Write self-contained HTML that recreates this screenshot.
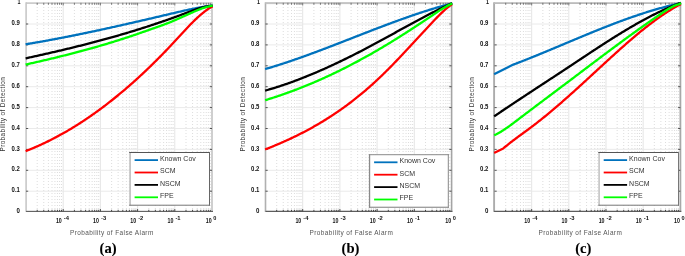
<!DOCTYPE html><html><head><meta charset="utf-8"><style>html,body{margin:0;padding:0;background:#fff;}body{width:685px;height:256px;overflow:hidden;}svg{display:block;}.tk{font-family:"Liberation Sans",Arial,sans-serif;font-weight:bold;fill:#111;}.lb{font-family:"Liberation Sans",Arial,sans-serif;fill:#555;}.lb2{font-family:"Liberation Sans",Arial,sans-serif;fill:#333;}.lg{font-family:"Liberation Sans",Arial,sans-serif;fill:#333;}.cap{font-family:"Liberation Serif","Times New Roman",serif;font-weight:bold;fill:#000;}</style></head><body>
<svg width="685" height="256" viewBox="0 0 685 256">
<g>
<rect x="0" y="0" width="685" height="256" fill="#fff"/>
<path d="M63.20 3.10V211.10M100.40 3.10V211.10M137.60 3.10V211.10M174.80 3.10V211.10" stroke="#e2e2e2" stroke-width="0.9" fill="none"/>
<path d="M37.20 4.10V211.10M43.75 4.10V211.10M48.40 4.10V211.10M52.00 4.10V211.10M54.95 4.10V211.10M57.44 4.10V211.10M59.59 4.10V211.10M61.50 4.10V211.10M74.40 4.10V211.10M80.95 4.10V211.10M85.60 4.10V211.10M89.20 4.10V211.10M92.15 4.10V211.10M94.64 4.10V211.10M96.79 4.10V211.10M98.70 4.10V211.10M111.60 4.10V211.10M118.15 4.10V211.10M122.80 4.10V211.10M126.40 4.10V211.10M129.35 4.10V211.10M131.84 4.10V211.10M133.99 4.10V211.10M135.90 4.10V211.10M148.80 4.10V211.10M155.35 4.10V211.10M160.00 4.10V211.10M163.60 4.10V211.10M166.55 4.10V211.10M169.04 4.10V211.10M171.19 4.10V211.10M173.10 4.10V211.10M186.00 4.10V211.10M192.55 4.10V211.10M197.20 4.10V211.10M200.80 4.10V211.10M203.75 4.10V211.10M206.24 4.10V211.10M208.39 4.10V211.10M210.30 4.10V211.10" stroke="#c0c0c0" stroke-width="0.6" stroke-dasharray="0.9 2.1" fill="none"/>
<path d="M26.00 191.20H212.00M26.00 170.30H212.00M26.00 149.40H212.00M26.00 128.50H212.00M26.00 107.60H212.00M26.00 86.70H212.00M26.00 65.80H212.00M26.00 44.90H212.00M26.00 24.00H212.00" stroke="#e8e8e8" stroke-width="0.9" fill="none"/>
<rect x="25.30" y="2.30" width="1.60" height="209.60" fill="#c8c8c8"/>
<rect x="211.00" y="2.30" width="2.00" height="209.60" fill="#cfcfcf"/>
<rect x="26.10" y="2.35" width="185.90" height="1.50" fill="#c4c4c4"/>
<rect x="26.10" y="210.85" width="186.90" height="1.00" fill="#4a4a4a"/>
<path d="M37.20 211.30v-1.50M43.75 211.30v-1.50M48.40 211.30v-1.50M52.00 211.30v-1.50M54.95 211.30v-1.50M57.44 211.30v-1.50M59.59 211.30v-1.50M61.50 211.30v-1.50M63.20 211.30v-2.20M74.40 211.30v-1.50M80.95 211.30v-1.50M85.60 211.30v-1.50M89.20 211.30v-1.50M92.15 211.30v-1.50M94.64 211.30v-1.50M96.79 211.30v-1.50M98.70 211.30v-1.50M100.40 211.30v-2.20M111.60 211.30v-1.50M118.15 211.30v-1.50M122.80 211.30v-1.50M126.40 211.30v-1.50M129.35 211.30v-1.50M131.84 211.30v-1.50M133.99 211.30v-1.50M135.90 211.30v-1.50M137.60 211.30v-2.20M148.80 211.30v-1.50M155.35 211.30v-1.50M160.00 211.30v-1.50M163.60 211.30v-1.50M166.55 211.30v-1.50M169.04 211.30v-1.50M171.19 211.30v-1.50M173.10 211.30v-1.50M174.80 211.30v-2.20M186.00 211.30v-1.50M192.55 211.30v-1.50M197.20 211.30v-1.50M200.80 211.30v-1.50M203.75 211.30v-1.50M206.24 211.30v-1.50M208.39 211.30v-1.50M210.30 211.30v-1.50" stroke="#333" stroke-width="0.9" fill="none"/>
<path d="M37.20 2.80v1.90M43.75 2.80v1.90M48.40 2.80v1.90M52.00 2.80v1.90M54.95 2.80v1.90M57.44 2.80v1.90M59.59 2.80v1.90M61.50 2.80v1.90M63.20 2.80v2.60M74.40 2.80v1.90M80.95 2.80v1.90M85.60 2.80v1.90M89.20 2.80v1.90M92.15 2.80v1.90M94.64 2.80v1.90M96.79 2.80v1.90M98.70 2.80v1.90M100.40 2.80v2.60M111.60 2.80v1.90M118.15 2.80v1.90M122.80 2.80v1.90M126.40 2.80v1.90M129.35 2.80v1.90M131.84 2.80v1.90M133.99 2.80v1.90M135.90 2.80v1.90M137.60 2.80v2.60M148.80 2.80v1.90M155.35 2.80v1.90M160.00 2.80v1.90M163.60 2.80v1.90M166.55 2.80v1.90M169.04 2.80v1.90M171.19 2.80v1.90M173.10 2.80v1.90M174.80 2.80v2.60M186.00 2.80v1.90M192.55 2.80v1.90M197.20 2.80v1.90M200.80 2.80v1.90M203.75 2.80v1.90M206.24 2.80v1.90M208.39 2.80v1.90M210.30 2.80v1.90" stroke="#6a6a6a" stroke-width="0.9" fill="none"/>
<path d="M26.00 191.20h2.2M212.00 191.20h-2.2M26.00 170.30h2.2M212.00 170.30h-2.2M26.00 149.40h2.2M212.00 149.40h-2.2M26.00 128.50h2.2M212.00 128.50h-2.2M26.00 107.60h2.2M212.00 107.60h-2.2M26.00 86.70h2.2M212.00 86.70h-2.2M26.00 65.80h2.2M212.00 65.80h-2.2M26.00 44.90h2.2M212.00 44.90h-2.2M26.00 24.00h2.2M212.00 24.00h-2.2" stroke="#444" stroke-width="0.9" fill="none"/>
<polyline points="25.61,44.28 26.00,44.22 26.93,44.06 27.86,43.91 28.79,43.76 29.72,43.60 30.65,43.45 31.58,43.29 32.51,43.13 33.44,42.97 34.37,42.81 35.30,42.65 36.23,42.49 37.16,42.33 38.09,42.17 39.02,42.01 39.95,41.84 40.88,41.68 41.81,41.51 42.74,41.35 43.67,41.18 44.60,41.01 45.53,40.85 46.46,40.68 47.39,40.51 48.32,40.34 49.25,40.17 50.18,39.99 51.11,39.82 52.04,39.65 52.97,39.48 53.90,39.30 54.83,39.13 55.76,38.95 56.69,38.78 57.62,38.60 58.55,38.42 59.48,38.24 60.41,38.07 61.34,37.89 62.27,37.71 63.20,37.53 64.13,37.34 65.06,37.16 65.99,36.98 66.92,36.80 67.85,36.61 68.78,36.43 69.71,36.25 70.64,36.06 71.57,35.87 72.50,35.69 73.43,35.50 74.36,35.31 75.29,35.13 76.22,34.94 77.15,34.75 78.08,34.56 79.01,34.37 79.94,34.18 80.87,33.99 81.80,33.79 82.73,33.60 83.66,33.41 84.59,33.22 85.52,33.02 86.45,32.83 87.38,32.63 88.31,32.44 89.24,32.24 90.17,32.05 91.10,31.85 92.03,31.65 92.96,31.45 93.89,31.26 94.82,31.06 95.75,30.86 96.68,30.66 97.61,30.46 98.54,30.26 99.47,30.06 100.40,29.86 101.33,29.66 102.26,29.45 103.19,29.25 104.12,29.05 105.05,28.85 105.98,28.64 106.91,28.44 107.84,28.23 108.77,28.03 109.70,27.82 110.63,27.62 111.56,27.41 112.49,27.21 113.42,27.00 114.35,26.79 115.28,26.59 116.21,26.38 117.14,26.17 118.07,25.96 119.00,25.75 119.93,25.55 120.86,25.34 121.79,25.13 122.72,24.92 123.65,24.71 124.58,24.50 125.51,24.29 126.44,24.08 127.37,23.86 128.30,23.65 129.23,23.44 130.16,23.23 131.09,23.02 132.02,22.80 132.95,22.59 133.88,22.38 134.81,22.16 135.74,21.95 136.67,21.74 137.60,21.52 138.53,21.31 139.46,21.09 140.39,20.88 141.32,20.67 142.25,20.45 143.18,20.24 144.11,20.02 145.04,19.80 145.97,19.59 146.90,19.37 147.83,19.16 148.76,18.94 149.69,18.72 150.62,18.51 151.55,18.29 152.48,18.07 153.41,17.86 154.34,17.64 155.27,17.42 156.20,17.20 157.13,16.99 158.06,16.77 158.99,16.55 159.92,16.33 160.85,16.11 161.78,15.90 162.71,15.68 163.64,15.46 164.57,15.24 165.50,15.02 166.43,14.80 167.36,14.59 168.29,14.37 169.22,14.15 170.15,13.93 171.08,13.71 172.01,13.49 172.94,13.27 173.87,13.05 174.80,12.84 175.73,12.62 176.66,12.40 177.59,12.19 178.52,11.97 179.45,11.75 180.38,11.54 181.31,11.33 182.24,11.12 183.17,10.91 184.10,10.70 185.03,10.49 185.96,10.28 186.89,10.08 187.82,9.88 188.75,9.68 189.68,9.48 190.61,9.28 191.54,9.08 192.47,8.89 193.40,8.70 194.33,8.51 195.26,8.33 196.19,8.15 197.12,7.97 198.05,7.79 198.98,7.61 199.91,7.44 200.84,7.27 201.77,7.11 202.70,6.95 203.63,6.79 204.56,6.63 205.49,6.48 206.42,6.34 207.35,6.19 208.28,6.05 209.21,5.92 210.14,5.78 211.07,5.66 212.00,5.53 212.69,5.44" stroke="#0072bd" stroke-width="2.3" fill="none" stroke-linejoin="round" stroke-linecap="butt"/>
<polyline points="25.63,151.10 26.00,150.96 26.93,150.60 27.86,150.23 28.79,149.87 29.72,149.49 30.65,149.12 31.58,148.73 32.51,148.35 33.44,147.96 34.37,147.57 35.30,147.17 36.23,146.77 37.16,146.36 38.09,145.95 39.02,145.53 39.95,145.11 40.88,144.69 41.81,144.26 42.74,143.83 43.67,143.40 44.60,142.96 45.53,142.51 46.46,142.07 47.39,141.61 48.32,141.16 49.25,140.70 50.18,140.23 51.11,139.76 52.04,139.29 52.97,138.81 53.90,138.33 54.83,137.85 55.76,137.36 56.69,136.86 57.62,136.37 58.55,135.86 59.48,135.36 60.41,134.85 61.34,134.33 62.27,133.82 63.20,133.29 64.13,132.77 65.06,132.24 65.99,131.70 66.92,131.16 67.85,130.62 68.78,130.07 69.71,129.52 70.64,128.97 71.57,128.41 72.50,127.84 73.43,127.28 74.36,126.70 75.29,126.13 76.22,125.55 77.15,124.96 78.08,124.38 79.01,123.78 79.94,123.19 80.87,122.59 81.80,121.98 82.73,121.37 83.66,120.76 84.59,120.14 85.52,119.52 86.45,118.90 87.38,118.27 88.31,117.64 89.24,117.00 90.17,116.36 91.10,115.71 92.03,115.06 92.96,114.41 93.89,113.75 94.82,113.09 95.75,112.43 96.68,111.76 97.61,111.08 98.54,110.41 99.47,109.73 100.40,109.04 101.33,108.35 102.26,107.66 103.19,106.96 104.12,106.26 105.05,105.55 105.98,104.84 106.91,104.13 107.84,103.41 108.77,102.69 109.70,101.96 110.63,101.23 111.56,100.50 112.49,99.76 113.42,99.02 114.35,98.27 115.28,97.52 116.21,96.77 117.14,96.01 118.07,95.25 119.00,94.48 119.93,93.71 120.86,92.94 121.79,92.16 122.72,91.38 123.65,90.59 124.58,89.80 125.51,89.01 126.44,88.21 127.37,87.41 128.30,86.60 129.23,85.79 130.16,84.98 131.09,84.16 132.02,83.34 132.95,82.52 133.88,81.69 134.81,80.85 135.74,80.02 136.67,79.17 137.60,78.33 138.53,77.48 139.46,76.63 140.39,75.77 141.32,74.91 142.25,74.04 143.18,73.17 144.11,72.30 145.04,71.42 145.97,70.54 146.90,69.66 147.83,68.77 148.76,67.87 149.69,66.98 150.62,66.08 151.55,65.17 152.48,64.26 153.41,63.35 154.34,62.44 155.27,61.51 156.20,60.59 157.13,59.66 158.06,58.73 158.99,57.79 159.92,56.85 160.85,55.91 161.78,54.96 162.71,54.01 163.64,53.06 164.57,52.10 165.50,51.13 166.43,50.17 167.36,49.20 168.29,48.22 169.22,47.24 170.15,46.26 171.08,45.27 172.01,44.28 172.94,43.29 173.87,42.29 174.80,41.29 175.73,40.28 176.66,39.27 177.59,38.26 178.52,37.25 179.45,36.24 180.38,35.22 181.31,34.21 182.24,33.20 183.17,32.19 184.10,31.19 185.03,30.19 185.96,29.19 186.89,28.20 187.82,27.22 188.75,26.25 189.68,25.28 190.61,24.32 191.54,23.37 192.47,22.44 193.40,21.51 194.33,20.60 195.26,19.70 196.19,18.81 197.12,17.94 198.05,17.08 198.98,16.24 199.91,15.42 200.84,14.61 201.77,13.83 202.70,13.06 203.63,12.32 204.56,11.59 205.49,10.89 206.42,10.21 207.35,9.55 208.28,8.92 209.21,8.31 210.14,7.73 211.07,7.18 212.00,6.65 212.61,6.31" stroke="#ff0000" stroke-width="2.3" fill="none" stroke-linejoin="round" stroke-linecap="butt"/>
<polyline points="25.61,58.34 26.00,58.26 26.93,58.06 27.86,57.85 28.79,57.65 29.72,57.45 30.65,57.25 31.58,57.04 32.51,56.84 33.44,56.64 34.37,56.43 35.30,56.23 36.23,56.02 37.16,55.82 38.09,55.61 39.02,55.40 39.95,55.20 40.88,54.99 41.81,54.78 42.74,54.57 43.67,54.36 44.60,54.15 45.53,53.94 46.46,53.73 47.39,53.52 48.32,53.31 49.25,53.10 50.18,52.88 51.11,52.67 52.04,52.46 52.97,52.24 53.90,52.03 54.83,51.81 55.76,51.60 56.69,51.38 57.62,51.16 58.55,50.94 59.48,50.73 60.41,50.51 61.34,50.29 62.27,50.07 63.20,49.85 64.13,49.63 65.06,49.40 65.99,49.18 66.92,48.96 67.85,48.73 68.78,48.51 69.71,48.28 70.64,48.06 71.57,47.83 72.50,47.60 73.43,47.38 74.36,47.15 75.29,46.92 76.22,46.69 77.15,46.46 78.08,46.22 79.01,45.99 79.94,45.76 80.87,45.53 81.80,45.29 82.73,45.06 83.66,44.82 84.59,44.58 85.52,44.35 86.45,44.11 87.38,43.87 88.31,43.63 89.24,43.39 90.17,43.15 91.10,42.91 92.03,42.66 92.96,42.42 93.89,42.18 94.82,41.93 95.75,41.68 96.68,41.44 97.61,41.19 98.54,40.94 99.47,40.69 100.40,40.44 101.33,40.19 102.26,39.94 103.19,39.68 104.12,39.43 105.05,39.18 105.98,38.92 106.91,38.66 107.84,38.41 108.77,38.15 109.70,37.89 110.63,37.63 111.56,37.37 112.49,37.11 113.42,36.84 114.35,36.58 115.28,36.32 116.21,36.05 117.14,35.78 118.07,35.52 119.00,35.25 119.93,34.98 120.86,34.71 121.79,34.44 122.72,34.16 123.65,33.89 124.58,33.62 125.51,33.34 126.44,33.07 127.37,32.79 128.30,32.51 129.23,32.23 130.16,31.95 131.09,31.67 132.02,31.39 132.95,31.10 133.88,30.82 134.81,30.53 135.74,30.24 136.67,29.96 137.60,29.67 138.53,29.38 139.46,29.09 140.39,28.79 141.32,28.50 142.25,28.21 143.18,27.91 144.11,27.61 145.04,27.32 145.97,27.02 146.90,26.72 147.83,26.42 148.76,26.11 149.69,25.81 150.62,25.50 151.55,25.20 152.48,24.89 153.41,24.58 154.34,24.27 155.27,23.96 156.20,23.65 157.13,23.34 158.06,23.02 158.99,22.71 159.92,22.39 160.85,22.07 161.78,21.75 162.71,21.43 163.64,21.11 164.57,20.79 165.50,20.47 166.43,20.14 167.36,19.81 168.29,19.49 169.22,19.16 170.15,18.83 171.08,18.49 172.01,18.16 172.94,17.83 173.87,17.49 174.80,17.16 175.73,16.82 176.66,16.48 177.59,16.14 178.52,15.80 179.45,15.46 180.38,15.12 181.31,14.78 182.24,14.43 183.17,14.09 184.10,13.75 185.03,13.40 185.96,13.06 186.89,12.71 187.82,12.37 188.75,12.02 189.68,11.68 190.61,11.33 191.54,10.99 192.47,10.65 193.40,10.31 194.33,9.97 195.26,9.64 196.19,9.32 197.12,9.00 198.05,8.69 198.98,8.39 199.91,8.11 200.84,7.83 201.77,7.57 202.70,7.32 203.63,7.09 204.56,6.88 205.49,6.68 206.42,6.51 207.35,6.35 208.28,6.21 209.21,6.10 210.14,6.01 211.07,5.95 212.00,5.91 212.70,5.88" stroke="#000000" stroke-width="2.3" fill="none" stroke-linejoin="round" stroke-linecap="butt"/>
<polyline points="25.61,64.55 26.00,64.46 26.93,64.26 27.86,64.05 28.79,63.85 29.72,63.64 30.65,63.43 31.58,63.22 32.51,63.01 33.44,62.80 34.37,62.59 35.30,62.38 36.23,62.17 37.16,61.96 38.09,61.75 39.02,61.54 39.95,61.32 40.88,61.11 41.81,60.89 42.74,60.68 43.67,60.46 44.60,60.24 45.53,60.02 46.46,59.81 47.39,59.59 48.32,59.37 49.25,59.15 50.18,58.93 51.11,58.70 52.04,58.48 52.97,58.26 53.90,58.03 54.83,57.81 55.76,57.58 56.69,57.35 57.62,57.13 58.55,56.90 59.48,56.67 60.41,56.44 61.34,56.21 62.27,55.98 63.20,55.75 64.13,55.51 65.06,55.28 65.99,55.04 66.92,54.81 67.85,54.57 68.78,54.34 69.71,54.10 70.64,53.86 71.57,53.62 72.50,53.38 73.43,53.14 74.36,52.89 75.29,52.65 76.22,52.41 77.15,52.16 78.08,51.91 79.01,51.67 79.94,51.42 80.87,51.17 81.80,50.92 82.73,50.67 83.66,50.42 84.59,50.16 85.52,49.91 86.45,49.65 87.38,49.40 88.31,49.14 89.24,48.88 90.17,48.62 91.10,48.36 92.03,48.10 92.96,47.84 93.89,47.58 94.82,47.31 95.75,47.05 96.68,46.78 97.61,46.52 98.54,46.25 99.47,45.98 100.40,45.71 101.33,45.43 102.26,45.16 103.19,44.89 104.12,44.61 105.05,44.34 105.98,44.06 106.91,43.78 107.84,43.50 108.77,43.22 109.70,42.94 110.63,42.65 111.56,42.37 112.49,42.08 113.42,41.80 114.35,41.51 115.28,41.22 116.21,40.93 117.14,40.64 118.07,40.35 119.00,40.05 119.93,39.76 120.86,39.46 121.79,39.16 122.72,38.86 123.65,38.56 124.58,38.26 125.51,37.96 126.44,37.65 127.37,37.35 128.30,37.04 129.23,36.73 130.16,36.42 131.09,36.11 132.02,35.80 132.95,35.49 133.88,35.17 134.81,34.86 135.74,34.54 136.67,34.22 137.60,33.90 138.53,33.58 139.46,33.26 140.39,32.93 141.32,32.61 142.25,32.28 143.18,31.96 144.11,31.63 145.04,31.30 145.97,30.98 146.90,30.65 147.83,30.32 148.76,30.00 149.69,29.67 150.62,29.35 151.55,29.02 152.48,28.70 153.41,28.37 154.34,28.05 155.27,27.72 156.20,27.40 157.13,27.07 158.06,26.74 158.99,26.41 159.92,26.08 160.85,25.74 161.78,25.41 162.71,25.07 163.64,24.72 164.57,24.38 165.50,24.03 166.43,23.67 167.36,23.31 168.29,22.95 169.22,22.58 170.15,22.20 171.08,21.83 172.01,21.44 172.94,21.05 173.87,20.66 174.80,20.26 175.73,19.86 176.66,19.45 177.59,19.04 178.52,18.63 179.45,18.22 180.38,17.80 181.31,17.39 182.24,16.97 183.17,16.55 184.10,16.12 185.03,15.70 185.96,15.28 186.89,14.86 187.82,14.43 188.75,14.01 189.68,13.59 190.61,13.17 191.54,12.75 192.47,12.34 193.40,11.93 194.33,11.52 195.26,11.12 196.19,10.72 197.12,10.33 198.05,9.95 198.98,9.57 199.91,9.21 200.84,8.86 201.77,8.51 202.70,8.19 203.63,7.87 204.56,7.57 205.49,7.28 206.42,7.01 207.35,6.76 208.28,6.53 209.21,6.31 210.14,6.12 211.07,5.95 212.00,5.80 212.69,5.68" stroke="#00ff00" stroke-width="2.3" fill="none" stroke-linejoin="round" stroke-linecap="butt"/>
<text class="tk" x="19.90" y="213.20" font-size="7.1" text-anchor="end" textLength="3.40" lengthAdjust="spacingAndGlyphs">0</text>
<text class="tk" x="19.90" y="192.30" font-size="7.1" text-anchor="end" textLength="8.30" lengthAdjust="spacingAndGlyphs">0.1</text>
<text class="tk" x="19.90" y="171.40" font-size="7.1" text-anchor="end" textLength="8.30" lengthAdjust="spacingAndGlyphs">0.2</text>
<text class="tk" x="19.90" y="150.50" font-size="7.1" text-anchor="end" textLength="8.30" lengthAdjust="spacingAndGlyphs">0.3</text>
<text class="tk" x="19.90" y="129.60" font-size="7.1" text-anchor="end" textLength="8.30" lengthAdjust="spacingAndGlyphs">0.4</text>
<text class="tk" x="19.90" y="108.70" font-size="7.1" text-anchor="end" textLength="8.30" lengthAdjust="spacingAndGlyphs">0.5</text>
<text class="tk" x="19.90" y="87.80" font-size="7.1" text-anchor="end" textLength="8.30" lengthAdjust="spacingAndGlyphs">0.6</text>
<text class="tk" x="19.90" y="66.90" font-size="7.1" text-anchor="end" textLength="8.30" lengthAdjust="spacingAndGlyphs">0.7</text>
<text class="tk" x="19.90" y="46.00" font-size="7.1" text-anchor="end" textLength="8.30" lengthAdjust="spacingAndGlyphs">0.8</text>
<text class="tk" x="19.90" y="25.10" font-size="7.1" text-anchor="end" textLength="8.30" lengthAdjust="spacingAndGlyphs">0.9</text>
<text class="tk" x="20.60" y="4.20" font-size="7.1" text-anchor="end" textLength="3.00" lengthAdjust="spacingAndGlyphs">1</text>
<text class="tk" x="61.80" y="222.6" font-size="6.6" text-anchor="end" textLength="5.9" lengthAdjust="spacingAndGlyphs">10</text>
<text class="tk" x="63.80" y="219.6" font-size="5.8">-4</text>
<text class="tk" x="99.00" y="222.6" font-size="6.6" text-anchor="end" textLength="5.9" lengthAdjust="spacingAndGlyphs">10</text>
<text class="tk" x="101.00" y="219.6" font-size="5.8">-3</text>
<text class="tk" x="136.20" y="222.6" font-size="6.6" text-anchor="end" textLength="5.9" lengthAdjust="spacingAndGlyphs">10</text>
<text class="tk" x="138.20" y="219.6" font-size="5.8">-2</text>
<text class="tk" x="173.40" y="222.6" font-size="6.6" text-anchor="end" textLength="5.9" lengthAdjust="spacingAndGlyphs">10</text>
<text class="tk" x="175.40" y="219.6" font-size="5.8">-1</text>
<text class="tk" x="211.60" y="222.6" font-size="6.6" text-anchor="end" textLength="5.9" lengthAdjust="spacingAndGlyphs">10</text>
<text class="tk" x="213.30" y="219.6" font-size="5.6">0</text>
<text class="lb" x="70.10" y="235.20" font-size="8.0" letter-spacing="0.5" textLength="83.6" lengthAdjust="spacingAndGlyphs">Probability of False Alarm</text>
<text class="lb2" transform="translate(5.20,151.50) rotate(-90)" font-size="7.6" letter-spacing="0.4" textLength="74.7" lengthAdjust="spacingAndGlyphs">Probability of Detection</text>
<text class="cap" x="108.10" y="252.90" font-size="14.6" text-anchor="middle" stroke="#000" stroke-width="0.1">(a)</text>
<rect x="130.00" y="152.50" width="79.40" height="52.60" fill="#fff"/>
<rect x="129.20" y="152.00" width="1.80" height="53.70" fill="#c4c4c4"/>
<rect x="129.20" y="152.00" width="80.80" height="1.00" fill="#555555"/>
<rect x="209.00" y="152.00" width="1.00" height="53.70" fill="#666666"/>
<rect x="129.20" y="204.70" width="80.80" height="1.00" fill="#777777"/>
<path d="M134.60 160.10h23.4" stroke="#0072bd" stroke-width="1.8"/>
<text class="lg" x="160.00" y="160.90" font-size="7">Known Cov</text>
<path d="M134.60 172.50h23.4" stroke="#ff0000" stroke-width="1.8"/>
<text class="lg" x="160.00" y="173.30" font-size="7">SCM</text>
<path d="M134.60 184.90h23.4" stroke="#000000" stroke-width="1.8"/>
<text class="lg" x="160.00" y="185.70" font-size="7">NSCM</text>
<path d="M134.60 197.30h23.4" stroke="#00ff00" stroke-width="1.8"/>
<text class="lg" x="160.00" y="198.10" font-size="7">FPE</text>
<path d="M302.70 3.10V211.10M339.90 3.10V211.10M377.10 3.10V211.10M414.30 3.10V211.10" stroke="#e2e2e2" stroke-width="0.9" fill="none"/>
<path d="M276.70 4.10V211.10M283.25 4.10V211.10M287.90 4.10V211.10M291.50 4.10V211.10M294.45 4.10V211.10M296.94 4.10V211.10M299.09 4.10V211.10M301.00 4.10V211.10M313.90 4.10V211.10M320.45 4.10V211.10M325.10 4.10V211.10M328.70 4.10V211.10M331.65 4.10V211.10M334.14 4.10V211.10M336.29 4.10V211.10M338.20 4.10V211.10M351.10 4.10V211.10M357.65 4.10V211.10M362.30 4.10V211.10M365.90 4.10V211.10M368.85 4.10V211.10M371.34 4.10V211.10M373.49 4.10V211.10M375.40 4.10V211.10M388.30 4.10V211.10M394.85 4.10V211.10M399.50 4.10V211.10M403.10 4.10V211.10M406.05 4.10V211.10M408.54 4.10V211.10M410.69 4.10V211.10M412.60 4.10V211.10M425.50 4.10V211.10M432.05 4.10V211.10M436.70 4.10V211.10M440.30 4.10V211.10M443.25 4.10V211.10M445.74 4.10V211.10M447.89 4.10V211.10M449.80 4.10V211.10" stroke="#c0c0c0" stroke-width="0.6" stroke-dasharray="0.9 2.1" fill="none"/>
<path d="M265.50 191.20H451.50M265.50 170.30H451.50M265.50 149.40H451.50M265.50 128.50H451.50M265.50 107.60H451.50M265.50 86.70H451.50M265.50 65.80H451.50M265.50 44.90H451.50M265.50 24.00H451.50" stroke="#e8e8e8" stroke-width="0.9" fill="none"/>
<rect x="264.70" y="2.30" width="1.60" height="209.60" fill="#b0b0b0"/>
<rect x="450.80" y="2.30" width="1.60" height="209.60" fill="#a4a4a4"/>
<rect x="265.50" y="2.10" width="186.10" height="2.00" fill="#c4c4c4"/>
<rect x="265.50" y="210.75" width="186.90" height="1.20" fill="#555555"/>
<path d="M276.70 211.30v-1.50M283.25 211.30v-1.50M287.90 211.30v-1.50M291.50 211.30v-1.50M294.45 211.30v-1.50M296.94 211.30v-1.50M299.09 211.30v-1.50M301.00 211.30v-1.50M302.70 211.30v-2.20M313.90 211.30v-1.50M320.45 211.30v-1.50M325.10 211.30v-1.50M328.70 211.30v-1.50M331.65 211.30v-1.50M334.14 211.30v-1.50M336.29 211.30v-1.50M338.20 211.30v-1.50M339.90 211.30v-2.20M351.10 211.30v-1.50M357.65 211.30v-1.50M362.30 211.30v-1.50M365.90 211.30v-1.50M368.85 211.30v-1.50M371.34 211.30v-1.50M373.49 211.30v-1.50M375.40 211.30v-1.50M377.10 211.30v-2.20M388.30 211.30v-1.50M394.85 211.30v-1.50M399.50 211.30v-1.50M403.10 211.30v-1.50M406.05 211.30v-1.50M408.54 211.30v-1.50M410.69 211.30v-1.50M412.60 211.30v-1.50M414.30 211.30v-2.20M425.50 211.30v-1.50M432.05 211.30v-1.50M436.70 211.30v-1.50M440.30 211.30v-1.50M443.25 211.30v-1.50M445.74 211.30v-1.50M447.89 211.30v-1.50M449.80 211.30v-1.50" stroke="#333" stroke-width="0.9" fill="none"/>
<path d="M276.70 2.80v1.90M283.25 2.80v1.90M287.90 2.80v1.90M291.50 2.80v1.90M294.45 2.80v1.90M296.94 2.80v1.90M299.09 2.80v1.90M301.00 2.80v1.90M302.70 2.80v2.60M313.90 2.80v1.90M320.45 2.80v1.90M325.10 2.80v1.90M328.70 2.80v1.90M331.65 2.80v1.90M334.14 2.80v1.90M336.29 2.80v1.90M338.20 2.80v1.90M339.90 2.80v2.60M351.10 2.80v1.90M357.65 2.80v1.90M362.30 2.80v1.90M365.90 2.80v1.90M368.85 2.80v1.90M371.34 2.80v1.90M373.49 2.80v1.90M375.40 2.80v1.90M377.10 2.80v2.60M388.30 2.80v1.90M394.85 2.80v1.90M399.50 2.80v1.90M403.10 2.80v1.90M406.05 2.80v1.90M408.54 2.80v1.90M410.69 2.80v1.90M412.60 2.80v1.90M414.30 2.80v2.60M425.50 2.80v1.90M432.05 2.80v1.90M436.70 2.80v1.90M440.30 2.80v1.90M443.25 2.80v1.90M445.74 2.80v1.90M447.89 2.80v1.90M449.80 2.80v1.90" stroke="#6a6a6a" stroke-width="0.9" fill="none"/>
<path d="M265.50 191.20h2.2M451.50 191.20h-2.2M265.50 170.30h2.2M451.50 170.30h-2.2M265.50 149.40h2.2M451.50 149.40h-2.2M265.50 128.50h2.2M451.50 128.50h-2.2M265.50 107.60h2.2M451.50 107.60h-2.2M265.50 86.70h2.2M451.50 86.70h-2.2M265.50 65.80h2.2M451.50 65.80h-2.2M265.50 44.90h2.2M451.50 44.90h-2.2M265.50 24.00h2.2M451.50 24.00h-2.2" stroke="#444" stroke-width="0.9" fill="none"/>
<polyline points="265.12,69.10 265.50,68.98 266.43,68.71 267.36,68.44 268.29,68.17 269.22,67.89 270.15,67.61 271.08,67.33 272.01,67.05 272.94,66.76 273.87,66.48 274.80,66.19 275.73,65.90 276.66,65.61 277.59,65.32 278.52,65.02 279.45,64.73 280.38,64.43 281.31,64.13 282.24,63.83 283.17,63.52 284.10,63.22 285.03,62.91 285.96,62.61 286.89,62.30 287.82,61.99 288.75,61.67 289.68,61.36 290.61,61.04 291.54,60.73 292.47,60.41 293.40,60.09 294.33,59.77 295.26,59.45 296.19,59.12 297.12,58.80 298.05,58.47 298.98,58.15 299.91,57.82 300.84,57.49 301.77,57.16 302.70,56.83 303.63,56.49 304.56,56.16 305.49,55.82 306.42,55.49 307.35,55.15 308.28,54.81 309.21,54.47 310.14,54.13 311.07,53.79 312.00,53.45 312.93,53.10 313.86,52.76 314.79,52.41 315.72,52.07 316.65,51.72 317.58,51.37 318.51,51.02 319.44,50.67 320.37,50.32 321.30,49.97 322.23,49.62 323.16,49.27 324.09,48.92 325.02,48.56 325.95,48.21 326.88,47.85 327.81,47.50 328.74,47.14 329.67,46.79 330.60,46.43 331.53,46.07 332.46,45.71 333.39,45.35 334.32,45.00 335.25,44.64 336.18,44.28 337.11,43.92 338.04,43.56 338.97,43.19 339.90,42.83 340.83,42.47 341.76,42.11 342.69,41.75 343.62,41.39 344.55,41.02 345.48,40.66 346.41,40.30 347.34,39.93 348.27,39.57 349.20,39.21 350.13,38.85 351.06,38.48 351.99,38.12 352.92,37.76 353.85,37.39 354.78,37.03 355.71,36.67 356.64,36.30 357.57,35.94 358.50,35.58 359.43,35.21 360.36,34.85 361.29,34.49 362.22,34.13 363.15,33.76 364.08,33.40 365.01,33.04 365.94,32.68 366.87,32.32 367.80,31.96 368.73,31.60 369.66,31.24 370.59,30.88 371.52,30.52 372.45,30.16 373.38,29.80 374.31,29.44 375.24,29.09 376.17,28.73 377.10,28.37 378.03,28.02 378.96,27.66 379.89,27.31 380.82,26.95 381.75,26.60 382.68,26.25 383.61,25.90 384.54,25.55 385.47,25.20 386.40,24.85 387.33,24.50 388.26,24.15 389.19,23.80 390.12,23.46 391.05,23.11 391.98,22.77 392.91,22.42 393.84,22.08 394.77,21.74 395.70,21.40 396.63,21.06 397.56,20.72 398.49,20.38 399.42,20.04 400.35,19.71 401.28,19.37 402.21,19.04 403.14,18.71 404.07,18.38 405.00,18.05 405.93,17.72 406.86,17.39 407.79,17.06 408.72,16.74 409.65,16.41 410.58,16.09 411.51,15.77 412.44,15.45 413.37,15.13 414.30,14.82 415.23,14.50 416.16,14.19 417.09,13.87 418.02,13.56 418.95,13.25 419.88,12.95 420.81,12.64 421.74,12.33 422.67,12.03 423.60,11.73 424.53,11.43 425.46,11.13 426.39,10.83 427.32,10.54 428.25,10.25 429.18,9.95 430.11,9.66 431.04,9.38 431.97,9.09 432.90,8.81 433.83,8.52 434.76,8.24 435.69,7.96 436.62,7.69 437.55,7.41 438.48,7.14 439.41,6.87 440.34,6.60 441.27,6.34 442.20,6.07 443.13,5.81 444.06,5.55 444.99,5.29 445.92,5.04 446.85,4.78 447.78,4.53 448.71,4.28 449.64,4.03 450.57,3.79 451.50,3.55 452.18,3.37" stroke="#0072bd" stroke-width="2.3" fill="none" stroke-linejoin="round" stroke-linecap="butt"/>
<polyline points="265.13,149.45 265.50,149.30 266.43,148.94 267.36,148.57 268.29,148.21 269.22,147.84 270.15,147.46 271.08,147.09 272.01,146.71 272.94,146.33 273.87,145.95 274.80,145.56 275.73,145.18 276.66,144.79 277.59,144.39 278.52,144.00 279.45,143.60 280.38,143.20 281.31,142.79 282.24,142.39 283.17,141.98 284.10,141.56 285.03,141.15 285.96,140.73 286.89,140.31 287.82,139.88 288.75,139.45 289.68,139.02 290.61,138.59 291.54,138.15 292.47,137.71 293.40,137.27 294.33,136.82 295.26,136.37 296.19,135.91 297.12,135.46 298.05,135.00 298.98,134.53 299.91,134.06 300.84,133.59 301.77,133.12 302.70,132.64 303.63,132.16 304.56,131.67 305.49,131.18 306.42,130.69 307.35,130.19 308.28,129.69 309.21,129.19 310.14,128.68 311.07,128.17 312.00,127.65 312.93,127.13 313.86,126.61 314.79,126.08 315.72,125.55 316.65,125.02 317.58,124.48 318.51,123.93 319.44,123.38 320.37,122.83 321.30,122.28 322.23,121.72 323.16,121.15 324.09,120.58 325.02,120.01 325.95,119.43 326.88,118.85 327.81,118.26 328.74,117.67 329.67,117.08 330.60,116.48 331.53,115.87 332.46,115.26 333.39,114.65 334.32,114.03 335.25,113.41 336.18,112.78 337.11,112.15 338.04,111.51 338.97,110.87 339.90,110.22 340.83,109.57 341.76,108.91 342.69,108.25 343.62,107.58 344.55,106.91 345.48,106.24 346.41,105.55 347.34,104.87 348.27,104.18 349.20,103.48 350.13,102.78 351.06,102.07 351.99,101.36 352.92,100.64 353.85,99.92 354.78,99.19 355.71,98.45 356.64,97.72 357.57,96.97 358.50,96.22 359.43,95.47 360.36,94.70 361.29,93.94 362.22,93.17 363.15,92.39 364.08,91.60 365.01,90.82 365.94,90.02 366.87,89.22 367.80,88.41 368.73,87.60 369.66,86.78 370.59,85.96 371.52,85.13 372.45,84.29 373.38,83.45 374.31,82.60 375.24,81.75 376.17,80.89 377.10,80.03 378.03,79.15 378.96,78.28 379.89,77.39 380.82,76.50 381.75,75.61 382.68,74.71 383.61,73.80 384.54,72.89 385.47,71.97 386.40,71.05 387.33,70.13 388.26,69.20 389.19,68.26 390.12,67.32 391.05,66.38 391.98,65.43 392.91,64.48 393.84,63.53 394.77,62.57 395.70,61.61 396.63,60.64 397.56,59.67 398.49,58.70 399.42,57.72 400.35,56.74 401.28,55.76 402.21,54.78 403.14,53.79 404.07,52.81 405.00,51.82 405.93,50.82 406.86,49.83 407.79,48.83 408.72,47.83 409.65,46.84 410.58,45.83 411.51,44.83 412.44,43.83 413.37,42.83 414.30,41.82 415.23,40.82 416.16,39.81 417.09,38.80 418.02,37.80 418.95,36.79 419.88,35.78 420.81,34.77 421.74,33.77 422.67,32.76 423.60,31.76 424.53,30.75 425.46,29.75 426.39,28.74 427.32,27.74 428.25,26.74 429.18,25.74 430.11,24.74 431.04,23.74 431.97,22.75 432.90,21.76 433.83,20.77 434.76,19.79 435.69,18.82 436.62,17.85 437.55,16.90 438.48,15.95 439.41,15.02 440.34,14.10 441.27,13.19 442.20,12.30 443.13,11.43 444.06,10.57 444.99,9.74 445.92,8.92 446.85,8.13 447.78,7.36 448.71,6.62 449.64,5.90 450.57,5.21 451.50,4.54 452.07,4.14" stroke="#ff0000" stroke-width="2.3" fill="none" stroke-linejoin="round" stroke-linecap="butt"/>
<polyline points="265.12,90.65 265.50,90.54 266.43,90.27 267.36,90.01 268.29,89.74 269.22,89.47 270.15,89.19 271.08,88.92 272.01,88.64 272.94,88.35 273.87,88.07 274.80,87.78 275.73,87.49 276.66,87.20 277.59,86.90 278.52,86.60 279.45,86.30 280.38,85.99 281.31,85.69 282.24,85.38 283.17,85.06 284.10,84.75 285.03,84.43 285.96,84.11 286.89,83.79 287.82,83.46 288.75,83.13 289.68,82.80 290.61,82.47 291.54,82.14 292.47,81.80 293.40,81.46 294.33,81.11 295.26,80.77 296.19,80.42 297.12,80.07 298.05,79.72 298.98,79.36 299.91,79.01 300.84,78.65 301.77,78.28 302.70,77.92 303.63,77.55 304.56,77.18 305.49,76.81 306.42,76.44 307.35,76.06 308.28,75.69 309.21,75.30 310.14,74.92 311.07,74.54 312.00,74.15 312.93,73.76 313.86,73.37 314.79,72.98 315.72,72.58 316.65,72.19 317.58,71.79 318.51,71.38 319.44,70.98 320.37,70.57 321.30,70.17 322.23,69.76 323.16,69.35 324.09,68.93 325.02,68.52 325.95,68.10 326.88,67.68 327.81,67.26 328.74,66.83 329.67,66.41 330.60,65.98 331.53,65.55 332.46,65.12 333.39,64.69 334.32,64.26 335.25,63.82 336.18,63.38 337.11,62.94 338.04,62.50 338.97,62.06 339.90,61.61 340.83,61.16 341.76,60.72 342.69,60.27 343.62,59.81 344.55,59.36 345.48,58.91 346.41,58.45 347.34,57.99 348.27,57.53 349.20,57.07 350.13,56.61 351.06,56.14 351.99,55.68 352.92,55.21 353.85,54.74 354.78,54.27 355.71,53.80 356.64,53.32 357.57,52.85 358.50,52.37 359.43,51.89 360.36,51.42 361.29,50.93 362.22,50.45 363.15,49.97 364.08,49.48 365.01,49.00 365.94,48.51 366.87,48.02 367.80,47.53 368.73,47.04 369.66,46.55 370.59,46.06 371.52,45.56 372.45,45.07 373.38,44.57 374.31,44.07 375.24,43.57 376.17,43.07 377.10,42.57 378.03,42.06 378.96,41.56 379.89,41.06 380.82,40.55 381.75,40.04 382.68,39.54 383.61,39.03 384.54,38.52 385.47,38.01 386.40,37.50 387.33,36.99 388.26,36.48 389.19,35.96 390.12,35.45 391.05,34.94 391.98,34.42 392.91,33.91 393.84,33.40 394.77,32.88 395.70,32.37 396.63,31.86 397.56,31.34 398.49,30.83 399.42,30.32 400.35,29.80 401.28,29.29 402.21,28.78 403.14,28.26 404.07,27.75 405.00,27.24 405.93,26.73 406.86,26.22 407.79,25.71 408.72,25.20 409.65,24.69 410.58,24.18 411.51,23.68 412.44,23.17 413.37,22.67 414.30,22.16 415.23,21.66 416.16,21.16 417.09,20.66 418.02,20.16 418.95,19.66 419.88,19.16 420.81,18.67 421.74,18.17 422.67,17.68 423.60,17.19 424.53,16.70 425.46,16.21 426.39,15.73 427.32,15.24 428.25,14.76 429.18,14.28 430.11,13.80 431.04,13.32 431.97,12.85 432.90,12.38 433.83,11.91 434.76,11.44 435.69,10.97 436.62,10.51 437.55,10.05 438.48,9.59 439.41,9.13 440.34,8.68 441.27,8.23 442.20,7.78 443.13,7.33 444.06,6.89 444.99,6.45 445.92,6.01 446.85,5.58 447.78,5.14 448.71,4.72 449.64,4.29 450.57,3.87 451.50,3.45 452.14,3.16" stroke="#000000" stroke-width="2.3" fill="none" stroke-linejoin="round" stroke-linecap="butt"/>
<polyline points="265.12,100.22 265.50,100.10 266.43,99.82 267.36,99.53 268.29,99.25 269.22,98.96 270.15,98.67 271.08,98.37 272.01,98.08 272.94,97.78 273.87,97.48 274.80,97.18 275.73,96.87 276.66,96.57 277.59,96.26 278.52,95.94 279.45,95.63 280.38,95.31 281.31,95.00 282.24,94.68 283.17,94.35 284.10,94.03 285.03,93.70 285.96,93.37 286.89,93.04 287.82,92.70 288.75,92.37 289.68,92.03 290.61,91.69 291.54,91.34 292.47,91.00 293.40,90.65 294.33,90.30 295.26,89.95 296.19,89.59 297.12,89.24 298.05,88.88 298.98,88.52 299.91,88.15 300.84,87.79 301.77,87.42 302.70,87.05 303.63,86.68 304.56,86.30 305.49,85.93 306.42,85.55 307.35,85.17 308.28,84.78 309.21,84.40 310.14,84.01 311.07,83.62 312.00,83.23 312.93,82.83 313.86,82.44 314.79,82.04 315.72,81.64 316.65,81.23 317.58,80.83 318.51,80.42 319.44,80.01 320.37,79.60 321.30,79.19 322.23,78.77 323.16,78.35 324.09,77.93 325.02,77.51 325.95,77.08 326.88,76.66 327.81,76.23 328.74,75.80 329.67,75.36 330.60,74.93 331.53,74.49 332.46,74.05 333.39,73.61 334.32,73.16 335.25,72.72 336.18,72.27 337.11,71.82 338.04,71.37 338.97,70.91 339.90,70.45 340.83,69.99 341.76,69.53 342.69,69.07 343.62,68.60 344.55,68.14 345.48,67.67 346.41,67.20 347.34,66.72 348.27,66.25 349.20,65.77 350.13,65.29 351.06,64.80 351.99,64.32 352.92,63.83 353.85,63.34 354.78,62.85 355.71,62.36 356.64,61.87 357.57,61.37 358.50,60.87 359.43,60.37 360.36,59.86 361.29,59.36 362.22,58.85 363.15,58.34 364.08,57.83 365.01,57.32 365.94,56.80 366.87,56.28 367.80,55.76 368.73,55.24 369.66,54.72 370.59,54.19 371.52,53.66 372.45,53.13 373.38,52.60 374.31,52.07 375.24,51.53 376.17,50.99 377.10,50.45 378.03,49.91 378.96,49.36 379.89,48.82 380.82,48.27 381.75,47.72 382.68,47.17 383.61,46.61 384.54,46.06 385.47,45.50 386.40,44.94 387.33,44.38 388.26,43.81 389.19,43.25 390.12,42.68 391.05,42.11 391.98,41.54 392.91,40.97 393.84,40.39 394.77,39.82 395.70,39.24 396.63,38.66 397.56,38.08 398.49,37.50 399.42,36.91 400.35,36.33 401.28,35.74 402.21,35.15 403.14,34.56 404.07,33.97 405.00,33.37 405.93,32.78 406.86,32.18 407.79,31.58 408.72,30.99 409.65,30.39 410.58,29.78 411.51,29.18 412.44,28.58 413.37,27.97 414.30,27.36 415.23,26.75 416.16,26.14 417.09,25.53 418.02,24.92 418.95,24.31 419.88,23.69 420.81,23.08 421.74,22.46 422.67,21.84 423.60,21.22 424.53,20.60 425.46,19.98 426.39,19.36 427.32,18.74 428.25,18.11 429.18,17.49 430.11,16.86 431.04,16.23 431.97,15.61 432.90,14.98 433.83,14.35 434.76,13.72 435.69,13.09 436.62,12.46 437.55,11.84 438.48,11.23 439.41,10.62 440.34,10.02 441.27,9.42 442.20,8.84 443.13,8.27 444.06,7.71 444.99,7.16 445.92,6.63 446.85,6.12 447.78,5.62 448.71,5.13 449.64,4.65 450.57,4.18 451.50,3.71 452.13,3.40" stroke="#00ff00" stroke-width="2.3" fill="none" stroke-linejoin="round" stroke-linecap="butt"/>
<text class="tk" x="259.40" y="213.20" font-size="7.1" text-anchor="end" textLength="3.40" lengthAdjust="spacingAndGlyphs">0</text>
<text class="tk" x="259.40" y="192.30" font-size="7.1" text-anchor="end" textLength="8.30" lengthAdjust="spacingAndGlyphs">0.1</text>
<text class="tk" x="259.40" y="171.40" font-size="7.1" text-anchor="end" textLength="8.30" lengthAdjust="spacingAndGlyphs">0.2</text>
<text class="tk" x="259.40" y="150.50" font-size="7.1" text-anchor="end" textLength="8.30" lengthAdjust="spacingAndGlyphs">0.3</text>
<text class="tk" x="259.40" y="129.60" font-size="7.1" text-anchor="end" textLength="8.30" lengthAdjust="spacingAndGlyphs">0.4</text>
<text class="tk" x="259.40" y="108.70" font-size="7.1" text-anchor="end" textLength="8.30" lengthAdjust="spacingAndGlyphs">0.5</text>
<text class="tk" x="259.40" y="87.80" font-size="7.1" text-anchor="end" textLength="8.30" lengthAdjust="spacingAndGlyphs">0.6</text>
<text class="tk" x="259.40" y="66.90" font-size="7.1" text-anchor="end" textLength="8.30" lengthAdjust="spacingAndGlyphs">0.7</text>
<text class="tk" x="259.40" y="46.00" font-size="7.1" text-anchor="end" textLength="8.30" lengthAdjust="spacingAndGlyphs">0.8</text>
<text class="tk" x="259.40" y="25.10" font-size="7.1" text-anchor="end" textLength="8.30" lengthAdjust="spacingAndGlyphs">0.9</text>
<text class="tk" x="260.10" y="4.20" font-size="7.1" text-anchor="end" textLength="3.00" lengthAdjust="spacingAndGlyphs">1</text>
<text class="tk" x="301.30" y="222.6" font-size="6.6" text-anchor="end" textLength="5.9" lengthAdjust="spacingAndGlyphs">10</text>
<text class="tk" x="303.30" y="219.6" font-size="5.8">-4</text>
<text class="tk" x="338.50" y="222.6" font-size="6.6" text-anchor="end" textLength="5.9" lengthAdjust="spacingAndGlyphs">10</text>
<text class="tk" x="340.50" y="219.6" font-size="5.8">-3</text>
<text class="tk" x="375.70" y="222.6" font-size="6.6" text-anchor="end" textLength="5.9" lengthAdjust="spacingAndGlyphs">10</text>
<text class="tk" x="377.70" y="219.6" font-size="5.8">-2</text>
<text class="tk" x="412.90" y="222.6" font-size="6.6" text-anchor="end" textLength="5.9" lengthAdjust="spacingAndGlyphs">10</text>
<text class="tk" x="414.90" y="219.6" font-size="5.8">-1</text>
<text class="tk" x="451.10" y="222.6" font-size="6.6" text-anchor="end" textLength="5.9" lengthAdjust="spacingAndGlyphs">10</text>
<text class="tk" x="452.80" y="219.6" font-size="5.6">0</text>
<text class="lb" x="309.60" y="235.20" font-size="8.0" letter-spacing="0.5" textLength="83.6" lengthAdjust="spacingAndGlyphs">Probability of False Alarm</text>
<text class="lb2" transform="translate(244.70,151.50) rotate(-90)" font-size="7.6" letter-spacing="0.4" textLength="74.7" lengthAdjust="spacingAndGlyphs">Probability of Detection</text>
<text class="cap" x="350.45" y="252.90" font-size="14.6" text-anchor="middle" stroke="#000" stroke-width="0.1">(b)</text>
<rect x="369.50" y="154.70" width="79.00" height="52.60" fill="#fff"/>
<rect x="368.90" y="154.20" width="1.30" height="53.60" fill="#8a8a8a"/>
<rect x="368.90" y="154.20" width="79.90" height="1.00" fill="#8a8a8a"/>
<rect x="447.80" y="154.20" width="1.00" height="53.60" fill="#888888"/>
<rect x="368.90" y="206.70" width="79.90" height="1.10" fill="#888888"/>
<path d="M374.10 162.30h23.4" stroke="#0072bd" stroke-width="1.8"/>
<text class="lg" x="399.50" y="163.10" font-size="7">Known Cov</text>
<path d="M374.10 174.70h23.4" stroke="#ff0000" stroke-width="1.8"/>
<text class="lg" x="399.50" y="175.50" font-size="7">SCM</text>
<path d="M374.10 187.10h23.4" stroke="#000000" stroke-width="1.8"/>
<text class="lg" x="399.50" y="187.90" font-size="7">NSCM</text>
<path d="M374.10 199.50h23.4" stroke="#00ff00" stroke-width="1.8"/>
<text class="lg" x="399.50" y="200.30" font-size="7">FPE</text>
<path d="M531.66 3.10V211.10M568.82 3.10V211.10M605.98 3.10V211.10M643.14 3.10V211.10" stroke="#e2e2e2" stroke-width="0.9" fill="none"/>
<path d="M505.69 4.10V211.10M512.23 4.10V211.10M516.87 4.10V211.10M520.47 4.10V211.10M523.42 4.10V211.10M525.90 4.10V211.10M528.06 4.10V211.10M529.96 4.10V211.10M542.85 4.10V211.10M549.39 4.10V211.10M554.03 4.10V211.10M557.63 4.10V211.10M560.58 4.10V211.10M563.06 4.10V211.10M565.22 4.10V211.10M567.12 4.10V211.10M580.01 4.10V211.10M586.55 4.10V211.10M591.19 4.10V211.10M594.79 4.10V211.10M597.74 4.10V211.10M600.22 4.10V211.10M602.38 4.10V211.10M604.28 4.10V211.10M617.17 4.10V211.10M623.71 4.10V211.10M628.35 4.10V211.10M631.95 4.10V211.10M634.90 4.10V211.10M637.38 4.10V211.10M639.54 4.10V211.10M641.44 4.10V211.10M654.33 4.10V211.10M660.87 4.10V211.10M665.51 4.10V211.10M669.11 4.10V211.10M672.06 4.10V211.10M674.54 4.10V211.10M676.70 4.10V211.10M678.60 4.10V211.10" stroke="#c0c0c0" stroke-width="0.6" stroke-dasharray="0.9 2.1" fill="none"/>
<path d="M494.50 191.20H680.30M494.50 170.30H680.30M494.50 149.40H680.30M494.50 128.50H680.30M494.50 107.60H680.30M494.50 86.70H680.30M494.50 65.80H680.30M494.50 44.90H680.30M494.50 24.00H680.30" stroke="#e8e8e8" stroke-width="0.9" fill="none"/>
<rect x="493.15" y="2.30" width="1.90" height="209.60" fill="#acacac"/>
<rect x="679.50" y="2.30" width="1.80" height="209.60" fill="#a8a8a8"/>
<rect x="494.10" y="2.20" width="186.30" height="1.80" fill="#bcbcbc"/>
<rect x="494.10" y="210.75" width="187.20" height="1.20" fill="#555555"/>
<path d="M505.69 211.30v-1.50M512.23 211.30v-1.50M516.87 211.30v-1.50M520.47 211.30v-1.50M523.42 211.30v-1.50M525.90 211.30v-1.50M528.06 211.30v-1.50M529.96 211.30v-1.50M531.66 211.30v-2.20M542.85 211.30v-1.50M549.39 211.30v-1.50M554.03 211.30v-1.50M557.63 211.30v-1.50M560.58 211.30v-1.50M563.06 211.30v-1.50M565.22 211.30v-1.50M567.12 211.30v-1.50M568.82 211.30v-2.20M580.01 211.30v-1.50M586.55 211.30v-1.50M591.19 211.30v-1.50M594.79 211.30v-1.50M597.74 211.30v-1.50M600.22 211.30v-1.50M602.38 211.30v-1.50M604.28 211.30v-1.50M605.98 211.30v-2.20M617.17 211.30v-1.50M623.71 211.30v-1.50M628.35 211.30v-1.50M631.95 211.30v-1.50M634.90 211.30v-1.50M637.38 211.30v-1.50M639.54 211.30v-1.50M641.44 211.30v-1.50M643.14 211.30v-2.20M654.33 211.30v-1.50M660.87 211.30v-1.50M665.51 211.30v-1.50M669.11 211.30v-1.50M672.06 211.30v-1.50M674.54 211.30v-1.50M676.70 211.30v-1.50M678.60 211.30v-1.50" stroke="#333" stroke-width="0.9" fill="none"/>
<path d="M505.69 2.80v1.90M512.23 2.80v1.90M516.87 2.80v1.90M520.47 2.80v1.90M523.42 2.80v1.90M525.90 2.80v1.90M528.06 2.80v1.90M529.96 2.80v1.90M531.66 2.80v2.60M542.85 2.80v1.90M549.39 2.80v1.90M554.03 2.80v1.90M557.63 2.80v1.90M560.58 2.80v1.90M563.06 2.80v1.90M565.22 2.80v1.90M567.12 2.80v1.90M568.82 2.80v2.60M580.01 2.80v1.90M586.55 2.80v1.90M591.19 2.80v1.90M594.79 2.80v1.90M597.74 2.80v1.90M600.22 2.80v1.90M602.38 2.80v1.90M604.28 2.80v1.90M605.98 2.80v2.60M617.17 2.80v1.90M623.71 2.80v1.90M628.35 2.80v1.90M631.95 2.80v1.90M634.90 2.80v1.90M637.38 2.80v1.90M639.54 2.80v1.90M641.44 2.80v1.90M643.14 2.80v2.60M654.33 2.80v1.90M660.87 2.80v1.90M665.51 2.80v1.90M669.11 2.80v1.90M672.06 2.80v1.90M674.54 2.80v1.90M676.70 2.80v1.90M678.60 2.80v1.90" stroke="#6a6a6a" stroke-width="0.9" fill="none"/>
<path d="M494.50 191.20h2.2M680.30 191.20h-2.2M494.50 170.30h2.2M680.30 170.30h-2.2M494.50 149.40h2.2M680.30 149.40h-2.2M494.50 128.50h2.2M680.30 128.50h-2.2M494.50 107.60h2.2M680.30 107.60h-2.2M494.50 86.70h2.2M680.30 86.70h-2.2M494.50 65.80h2.2M680.30 65.80h-2.2M494.50 44.90h2.2M680.30 44.90h-2.2M494.50 24.00h2.2M680.30 24.00h-2.2" stroke="#444" stroke-width="0.9" fill="none"/>
<polyline points="494.14,74.18 494.50,74.00 512.34,65.00 513.18,64.69 514.02,64.37 514.86,64.05 515.70,63.73 516.54,63.41 517.38,63.08 518.22,62.76 519.06,62.43 519.90,62.11 520.73,61.78 521.57,61.45 522.41,61.12 523.25,60.79 524.09,60.46 524.93,60.13 525.77,59.80 526.61,59.46 527.45,59.13 528.29,58.79 529.13,58.46 529.97,58.12 530.81,57.78 531.65,57.44 532.49,57.10 533.33,56.76 534.17,56.42 535.01,56.08 535.85,55.74 536.69,55.40 537.53,55.06 538.37,54.71 539.21,54.37 540.05,54.02 540.89,53.68 541.73,53.33 542.57,52.99 543.41,52.64 544.25,52.29 545.09,51.94 545.93,51.60 546.77,51.25 547.61,50.90 548.45,50.55 549.29,50.20 550.13,49.85 550.97,49.50 551.81,49.15 552.65,48.80 553.49,48.45 554.33,48.09 555.17,47.74 556.01,47.39 556.85,47.04 557.69,46.69 558.53,46.34 559.37,45.98 560.21,45.63 561.05,45.28 561.89,44.93 562.73,44.57 563.57,44.22 564.41,43.87 565.25,43.51 566.09,43.16 566.92,42.81 567.76,42.46 568.60,42.10 569.44,41.75 570.28,41.40 571.12,41.05 571.96,40.69 572.80,40.34 573.64,39.99 574.48,39.64 575.32,39.29 576.16,38.94 577.00,38.59 577.84,38.24 578.68,37.89 579.52,37.54 580.36,37.19 581.20,36.84 582.04,36.49 582.88,36.14 583.72,35.79 584.56,35.44 585.40,35.10 586.24,34.75 587.08,34.40 587.92,34.06 588.76,33.71 589.60,33.37 590.44,33.03 591.28,32.68 592.12,32.34 592.96,32.00 593.80,31.66 594.64,31.31 595.48,30.97 596.32,30.63 597.16,30.30 598.00,29.96 598.84,29.62 599.68,29.28 600.52,28.95 601.36,28.61 602.20,28.28 603.04,27.94 603.88,27.61 604.72,27.28 605.56,26.95 606.40,26.62 607.24,26.29 608.08,25.96 608.92,25.63 609.76,25.31 610.60,24.98 611.44,24.66 612.27,24.34 613.11,24.01 613.95,23.69 614.79,23.37 615.63,23.05 616.47,22.74 617.31,22.42 618.15,22.10 618.99,21.79 619.83,21.48 620.67,21.17 621.51,20.86 622.35,20.55 623.19,20.24 624.03,19.93 624.87,19.63 625.71,19.32 626.55,19.02 627.39,18.72 628.23,18.42 629.07,18.12 629.91,17.82 630.75,17.53 631.59,17.23 632.43,16.94 633.27,16.65 634.11,16.36 634.95,16.07 635.79,15.79 636.63,15.50 637.47,15.22 638.31,14.93 639.15,14.65 639.99,14.38 640.83,14.10 641.67,13.82 642.51,13.55 643.35,13.28 644.19,13.01 645.03,12.74 645.87,12.47 646.71,12.21 647.55,11.95 648.39,11.69 649.23,11.43 650.07,11.17 650.91,10.91 651.75,10.66 652.59,10.41 653.43,10.16 654.27,9.91 655.11,9.67 655.95,9.42 656.79,9.18 657.62,8.94 658.46,8.70 659.30,8.47 660.14,8.23 660.98,8.00 661.82,7.77 662.66,7.55 663.50,7.32 664.34,7.10 665.18,6.88 666.02,6.66 666.86,6.44 667.70,6.23 668.54,6.02 669.38,5.81 670.22,5.60 671.06,5.40 671.90,5.20 672.74,5.00 673.58,4.80 674.42,4.60 675.26,4.41 676.10,4.22 676.94,4.03 677.78,3.85 678.62,3.66 679.46,3.48 680.30,3.31 680.98,3.16" stroke="#0072bd" stroke-width="2.3" fill="none" stroke-linejoin="round" stroke-linecap="butt"/>
<polyline points="494.14,152.87 494.50,152.70 503.23,148.50 504.12,147.73 505.00,146.99 505.89,146.25 506.77,145.53 507.66,144.82 508.54,144.11 509.43,143.41 510.32,142.71 511.20,142.02 512.09,141.34 512.97,140.67 513.86,139.99 514.74,139.33 515.63,138.66 516.51,138.00 517.40,137.35 518.28,136.69 519.17,136.04 520.05,135.39 520.94,134.74 521.82,134.09 522.71,133.45 523.60,132.80 524.48,132.16 525.37,131.51 526.25,130.86 527.14,130.21 528.02,129.56 528.91,128.90 529.79,128.25 530.68,127.59 531.56,126.92 532.45,126.26 533.33,125.58 534.22,124.91 535.10,124.23 535.99,123.55 536.88,122.86 537.76,122.17 538.65,121.47 539.53,120.77 540.42,120.07 541.30,119.37 542.19,118.66 543.07,117.94 543.96,117.23 544.84,116.51 545.73,115.79 546.61,115.06 547.50,114.33 548.38,113.60 549.27,112.87 550.16,112.13 551.04,111.39 551.93,110.64 552.81,109.90 553.70,109.15 554.58,108.39 555.47,107.64 556.35,106.88 557.24,106.12 558.12,105.36 559.01,104.59 559.89,103.83 560.78,103.06 561.66,102.29 562.55,101.51 563.44,100.74 564.32,99.96 565.21,99.18 566.09,98.40 566.98,97.61 567.86,96.83 568.75,96.04 569.63,95.25 570.52,94.46 571.40,93.66 572.29,92.87 573.17,92.07 574.06,91.28 574.94,90.48 575.83,89.68 576.72,88.88 577.60,88.07 578.49,87.27 579.37,86.46 580.26,85.66 581.14,84.85 582.03,84.04 582.91,83.23 583.80,82.42 584.68,81.61 585.57,80.80 586.45,79.99 587.34,79.18 588.22,78.36 589.11,77.55 590.00,76.74 590.88,75.92 591.77,75.11 592.65,74.29 593.54,73.47 594.42,72.66 595.31,71.84 596.19,71.03 597.08,70.21 597.96,69.40 598.85,68.58 599.73,67.76 600.62,66.95 601.51,66.13 602.39,65.32 603.28,64.50 604.16,63.69 605.05,62.88 605.93,62.06 606.82,61.25 607.70,60.44 608.59,59.63 609.47,58.82 610.36,58.01 611.24,57.20 612.13,56.40 613.01,55.59 613.90,54.79 614.79,53.98 615.67,53.18 616.56,52.38 617.44,51.58 618.33,50.79 619.21,49.99 620.10,49.20 620.98,48.41 621.87,47.62 622.75,46.83 623.64,46.05 624.52,45.27 625.41,44.49 626.29,43.71 627.18,42.93 628.07,42.16 628.95,41.39 629.84,40.63 630.72,39.86 631.61,39.10 632.49,38.35 633.38,37.59 634.26,36.84 635.15,36.09 636.03,35.35 636.92,34.61 637.80,33.87 638.69,33.14 639.57,32.41 640.46,31.68 641.35,30.96 642.23,30.24 643.12,29.53 644.00,28.82 644.89,28.11 645.77,27.41 646.66,26.72 647.54,26.02 648.43,25.34 649.31,24.66 650.20,23.98 651.08,23.30 651.97,22.64 652.85,21.97 653.74,21.32 654.63,20.66 655.51,20.02 656.40,19.38 657.28,18.74 658.17,18.11 659.05,17.48 659.94,16.86 660.82,16.25 661.71,15.64 662.59,15.04 663.48,14.45 664.36,13.86 665.25,13.28 666.13,12.70 667.02,12.13 667.91,11.56 668.79,11.01 669.68,10.46 670.56,9.91 671.45,9.38 672.33,8.85 673.22,8.32 674.10,7.81 674.99,7.30 675.87,6.80 676.76,6.31 677.64,5.82 678.53,5.34 679.41,4.87 680.30,4.41 680.92,4.08" stroke="#ff0000" stroke-width="2.3" fill="none" stroke-linejoin="round" stroke-linecap="butt"/>
<polyline points="494.17,116.34 494.50,116.11 495.43,115.48 496.36,114.85 497.29,114.22 498.22,113.59 499.14,112.96 500.07,112.33 501.00,111.70 501.93,111.08 502.86,110.45 503.79,109.83 504.72,109.20 505.65,108.58 506.58,107.96 507.51,107.34 508.44,106.71 509.36,106.09 510.29,105.47 511.22,104.85 512.15,104.24 513.08,103.62 514.01,103.00 514.94,102.38 515.87,101.77 516.80,101.15 517.73,100.53 518.65,99.92 519.58,99.30 520.51,98.69 521.44,98.08 522.37,97.46 523.30,96.85 524.23,96.24 525.16,95.62 526.09,95.01 527.01,94.40 527.94,93.79 528.87,93.18 529.80,92.57 530.73,91.96 531.66,91.35 532.59,90.74 533.52,90.13 534.45,89.52 535.38,88.91 536.30,88.30 537.23,87.69 538.16,87.08 539.09,86.47 540.02,85.86 540.95,85.25 541.88,84.64 542.81,84.03 543.74,83.43 544.67,82.82 545.60,82.21 546.52,81.60 547.45,80.99 548.38,80.38 549.31,79.77 550.24,79.16 551.17,78.55 552.10,77.95 553.03,77.34 553.96,76.73 554.88,76.12 555.81,75.51 556.74,74.90 557.67,74.29 558.60,73.68 559.53,73.06 560.46,72.45 561.39,71.84 562.32,71.23 563.25,70.62 564.17,70.01 565.10,69.39 566.03,68.78 566.96,68.17 567.89,67.55 568.82,66.94 569.75,66.32 570.68,65.71 571.61,65.09 572.54,64.48 573.47,63.86 574.39,63.24 575.32,62.63 576.25,62.01 577.18,61.39 578.11,60.78 579.04,60.16 579.97,59.54 580.90,58.93 581.83,58.31 582.75,57.69 583.68,57.08 584.61,56.46 585.54,55.85 586.47,55.23 587.40,54.62 588.33,54.00 589.26,53.39 590.19,52.78 591.12,52.16 592.04,51.55 592.97,50.94 593.90,50.33 594.83,49.72 595.76,49.11 596.69,48.50 597.62,47.90 598.55,47.29 599.48,46.69 600.41,46.08 601.34,45.48 602.26,44.88 603.19,44.28 604.12,43.68 605.05,43.08 605.98,42.48 606.91,41.89 607.84,41.29 608.77,40.70 609.70,40.11 610.62,39.52 611.55,38.93 612.48,38.35 613.41,37.76 614.34,37.18 615.27,36.60 616.20,36.02 617.13,35.44 618.06,34.86 618.99,34.29 619.91,33.72 620.84,33.15 621.77,32.58 622.70,32.02 623.63,31.45 624.56,30.89 625.49,30.33 626.42,29.78 627.35,29.22 628.28,28.67 629.21,28.12 630.13,27.58 631.06,27.03 631.99,26.49 632.92,25.95 633.85,25.41 634.78,24.88 635.71,24.35 636.64,23.82 637.57,23.30 638.50,22.77 639.42,22.26 640.35,21.74 641.28,21.23 642.21,20.72 643.14,20.21 644.07,19.70 645.00,19.20 645.93,18.71 646.86,18.21 647.79,17.72 648.71,17.23 649.64,16.75 650.57,16.27 651.50,15.79 652.43,15.32 653.36,14.85 654.29,14.38 655.22,13.92 656.15,13.46 657.08,13.01 658.00,12.56 658.93,12.11 659.86,11.67 660.79,11.23 661.72,10.79 662.65,10.36 663.58,9.93 664.51,9.51 665.44,9.09 666.37,8.68 667.29,8.27 668.22,7.86 669.15,7.46 670.08,7.06 671.01,6.67 671.94,6.28 672.87,5.90 673.80,5.52 674.73,5.15 675.65,4.78 676.58,4.41 677.51,4.05 678.44,3.70 679.37,3.35 680.30,3.00 680.96,2.76" stroke="#000000" stroke-width="2.3" fill="none" stroke-linejoin="round" stroke-linecap="butt"/>
<polyline points="494.14,135.33 494.50,135.16 495.43,134.71 496.36,134.25 497.29,133.76 498.22,133.26 499.14,132.74 500.07,132.20 501.00,131.65 501.93,131.08 502.86,130.50 503.79,129.90 504.72,129.29 505.65,128.66 506.58,128.03 507.51,127.38 508.44,126.73 509.36,126.07 510.29,125.39 511.22,124.72 512.15,124.03 513.08,123.34 514.01,122.64 514.94,121.94 515.87,121.24 516.80,120.53 517.73,119.83 518.65,119.12 519.58,118.41 520.51,117.70 521.44,116.99 522.37,116.29 523.30,115.58 524.23,114.87 525.16,114.17 526.09,113.46 527.01,112.76 527.94,112.06 528.87,111.35 529.80,110.65 530.73,109.95 531.66,109.25 532.59,108.54 533.52,107.84 534.45,107.14 535.38,106.44 536.30,105.74 537.23,105.04 538.16,104.34 539.09,103.64 540.02,102.94 540.95,102.24 541.88,101.55 542.81,100.85 543.74,100.15 544.67,99.45 545.60,98.75 546.52,98.06 547.45,97.36 548.38,96.66 549.31,95.96 550.24,95.27 551.17,94.57 552.10,93.87 553.03,93.17 553.96,92.48 554.88,91.78 555.81,91.08 556.74,90.38 557.67,89.69 558.60,88.99 559.53,88.29 560.46,87.59 561.39,86.90 562.32,86.20 563.25,85.50 564.17,84.80 565.10,84.10 566.03,83.40 566.96,82.71 567.89,82.01 568.82,81.31 569.75,80.61 570.68,79.91 571.61,79.21 572.54,78.51 573.47,77.81 574.39,77.11 575.32,76.40 576.25,75.70 577.18,75.00 578.11,74.30 579.04,73.60 579.97,72.90 580.90,72.20 581.83,71.49 582.75,70.79 583.68,70.09 584.61,69.39 585.54,68.69 586.47,67.99 587.40,67.29 588.33,66.59 589.26,65.88 590.19,65.18 591.12,64.48 592.04,63.78 592.97,63.08 593.90,62.38 594.83,61.68 595.76,60.98 596.69,60.28 597.62,59.59 598.55,58.89 599.48,58.19 600.41,57.49 601.34,56.79 602.26,56.10 603.19,55.40 604.12,54.70 605.05,54.01 605.98,53.31 606.91,52.62 607.84,51.93 608.77,51.23 609.70,50.54 610.62,49.85 611.55,49.16 612.48,48.47 613.41,47.78 614.34,47.09 615.27,46.40 616.20,45.71 617.13,45.02 618.06,44.34 618.99,43.65 619.91,42.96 620.84,42.28 621.77,41.60 622.70,40.91 623.63,40.23 624.56,39.55 625.49,38.87 626.42,38.19 627.35,37.52 628.28,36.84 629.21,36.16 630.13,35.49 631.06,34.82 631.99,34.14 632.92,33.47 633.85,32.80 634.78,32.13 635.71,31.46 636.64,30.80 637.57,30.13 638.50,29.47 639.42,28.80 640.35,28.14 641.28,27.48 642.21,26.82 643.14,26.16 644.07,25.50 645.00,24.85 645.93,24.19 646.86,23.54 647.79,22.89 648.71,22.24 649.64,21.59 650.57,20.94 651.50,20.30 652.43,19.65 653.36,19.01 654.29,18.37 655.22,17.73 656.15,17.09 657.08,16.46 658.00,15.82 658.93,15.19 659.86,14.56 660.79,13.93 661.72,13.30 662.65,12.67 663.58,12.05 664.51,11.43 665.44,10.81 666.37,10.21 667.29,9.62 668.22,9.04 669.15,8.48 670.08,7.93 671.01,7.41 671.94,6.92 672.87,6.45 673.80,6.01 674.73,5.61 675.65,5.24 676.58,4.90 677.51,4.61 678.44,4.36 679.37,4.05 680.30,3.43 680.88,3.05" stroke="#00ff00" stroke-width="2.3" fill="none" stroke-linejoin="round" stroke-linecap="butt"/>
<text class="tk" x="488.40" y="213.20" font-size="7.1" text-anchor="end" textLength="3.40" lengthAdjust="spacingAndGlyphs">0</text>
<text class="tk" x="488.40" y="192.30" font-size="7.1" text-anchor="end" textLength="8.30" lengthAdjust="spacingAndGlyphs">0.1</text>
<text class="tk" x="488.40" y="171.40" font-size="7.1" text-anchor="end" textLength="8.30" lengthAdjust="spacingAndGlyphs">0.2</text>
<text class="tk" x="488.40" y="150.50" font-size="7.1" text-anchor="end" textLength="8.30" lengthAdjust="spacingAndGlyphs">0.3</text>
<text class="tk" x="488.40" y="129.60" font-size="7.1" text-anchor="end" textLength="8.30" lengthAdjust="spacingAndGlyphs">0.4</text>
<text class="tk" x="488.40" y="108.70" font-size="7.1" text-anchor="end" textLength="8.30" lengthAdjust="spacingAndGlyphs">0.5</text>
<text class="tk" x="488.40" y="87.80" font-size="7.1" text-anchor="end" textLength="8.30" lengthAdjust="spacingAndGlyphs">0.6</text>
<text class="tk" x="488.40" y="66.90" font-size="7.1" text-anchor="end" textLength="8.30" lengthAdjust="spacingAndGlyphs">0.7</text>
<text class="tk" x="488.40" y="46.00" font-size="7.1" text-anchor="end" textLength="8.30" lengthAdjust="spacingAndGlyphs">0.8</text>
<text class="tk" x="488.40" y="25.10" font-size="7.1" text-anchor="end" textLength="8.30" lengthAdjust="spacingAndGlyphs">0.9</text>
<text class="tk" x="489.10" y="4.20" font-size="7.1" text-anchor="end" textLength="3.00" lengthAdjust="spacingAndGlyphs">1</text>
<text class="tk" x="530.26" y="222.6" font-size="6.6" text-anchor="end" textLength="5.9" lengthAdjust="spacingAndGlyphs">10</text>
<text class="tk" x="532.26" y="219.6" font-size="5.8">-4</text>
<text class="tk" x="567.42" y="222.6" font-size="6.6" text-anchor="end" textLength="5.9" lengthAdjust="spacingAndGlyphs">10</text>
<text class="tk" x="569.42" y="219.6" font-size="5.8">-3</text>
<text class="tk" x="604.58" y="222.6" font-size="6.6" text-anchor="end" textLength="5.9" lengthAdjust="spacingAndGlyphs">10</text>
<text class="tk" x="606.58" y="219.6" font-size="5.8">-2</text>
<text class="tk" x="641.74" y="222.6" font-size="6.6" text-anchor="end" textLength="5.9" lengthAdjust="spacingAndGlyphs">10</text>
<text class="tk" x="643.74" y="219.6" font-size="5.8">-1</text>
<text class="tk" x="679.90" y="222.6" font-size="6.6" text-anchor="end" textLength="5.9" lengthAdjust="spacingAndGlyphs">10</text>
<text class="tk" x="681.60" y="219.6" font-size="5.6">0</text>
<text class="lb" x="538.60" y="235.20" font-size="8.0" letter-spacing="0.5" textLength="83.6" lengthAdjust="spacingAndGlyphs">Probability of False Alarm</text>
<text class="lb2" transform="translate(473.70,151.50) rotate(-90)" font-size="7.6" letter-spacing="0.4" textLength="74.7" lengthAdjust="spacingAndGlyphs">Probability of Detection</text>
<text class="cap" x="583.35" y="252.90" font-size="14.6" text-anchor="middle" stroke="#000" stroke-width="0.1">(c)</text>
<rect x="599.10" y="152.50" width="79.30" height="52.60" fill="#fff"/>
<rect x="598.30" y="152.00" width="1.60" height="53.70" fill="#c4c4c4"/>
<rect x="598.30" y="152.00" width="80.70" height="1.00" fill="#555555"/>
<rect x="678.00" y="152.00" width="1.00" height="53.70" fill="#777777"/>
<rect x="598.30" y="204.70" width="80.70" height="1.00" fill="#777777"/>
<path d="M603.70 160.10h23.4" stroke="#0072bd" stroke-width="1.8"/>
<text class="lg" x="629.10" y="160.90" font-size="7">Known Cov</text>
<path d="M603.70 172.50h23.4" stroke="#ff0000" stroke-width="1.8"/>
<text class="lg" x="629.10" y="173.30" font-size="7">SCM</text>
<path d="M603.70 184.90h23.4" stroke="#000000" stroke-width="1.8"/>
<text class="lg" x="629.10" y="185.70" font-size="7">NSCM</text>
<path d="M603.70 197.30h23.4" stroke="#00ff00" stroke-width="1.8"/>
<text class="lg" x="629.10" y="198.10" font-size="7">FPE</text>
</g>
</svg></body></html>
